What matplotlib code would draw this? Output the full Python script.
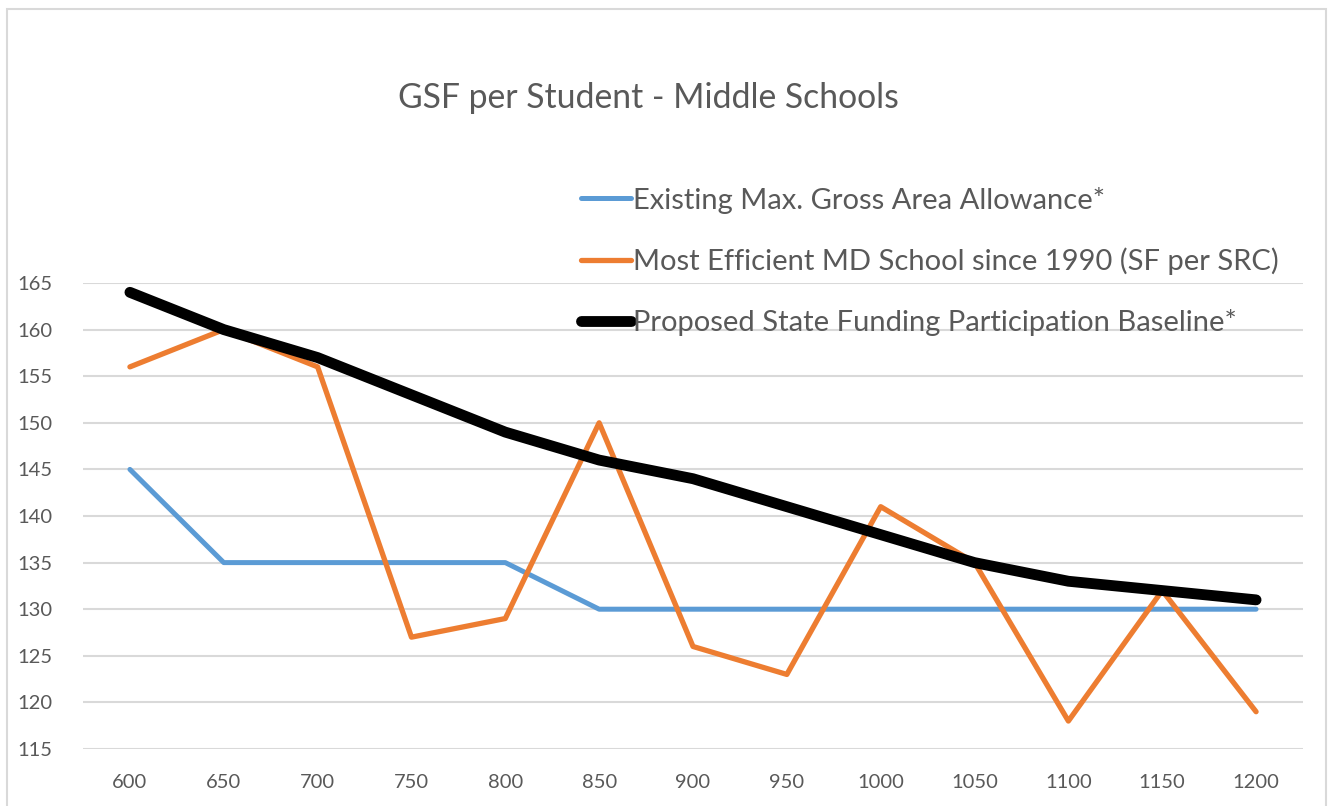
import numpy as np
import matplotlib.pyplot as plt
from matplotlib.patches import Rectangle

# enrollment categories
enrollment = [600, 650, 700, 750, 800, 850, 900, 950, 1000, 1050, 1100, 1150, 1200]

existing_max = [145, 135, 135, 135, 135, 130, 130, 130, 130, 130, 130, 130, 130]
most_efficient = [156, 160, 156, 127, 129, 150, 126, 123, 141, 135, 118, 132, 119]
proposed = [164, 160, 157, 153, 149, 146, 144, 141, 138, 135, 133, 132, 131]

labels = ['Existing Max. Gross Area Allowance*',
          'Most Efficient MD School since 1990 (SF per SRC)',
          'Proposed State Funding Participation Baseline*']

txt = '#595959'
plt.rcParams['font.family'] = ['Lato', 'DejaVu Sans']

fig = plt.figure(figsize=(13.34, 8.06), dpi=100)
# chart border
fig.patches.append(Rectangle((7 / 1334, -0.01), (1326 - 7) / 1334, 1 - 9 / 806 + 0.01,
                             transform=fig.transFigure, fill=False,
                             edgecolor='#d9d9d9', linewidth=1.5))

ax = fig.add_axes([83 / 1334, 1 - 749 / 806, 1220 / 1334, (749 - 283) / 806])
x = np.arange(len(enrollment))

l1, = ax.plot(x, existing_max, color='#5B9BD5', lw=3.6, solid_capstyle='round',
              solid_joinstyle='round', zorder=3)
l2, = ax.plot(x, most_efficient, color='#ED7D31', lw=3.8, solid_capstyle='round',
              solid_joinstyle='round', zorder=4)
l3, = ax.plot(x, proposed, color='black', lw=7.8, solid_capstyle='round',
              solid_joinstyle='round', zorder=5)

ax.set_xlim(-0.5, len(enrollment) - 0.5)
ax.set_ylim(115, 165)
ax.set_yticks(range(115, 166, 5))
ax.set_xticks(x)
ax.set_xticklabels([str(v) for v in enrollment])
ax.grid(axis='y', color='#d9d9d9', lw=1.5, zorder=0)
ax.set_axisbelow(True)
for s in ax.spines.values():
    s.set_visible(False)
ax.tick_params(length=0, labelsize=14.5, colors=txt)
ax.tick_params(axis='x', pad=18)
ax.tick_params(axis='y', pad=22)

fig.text(648 / 1334, 1 - 98 / 806, 'GSF per Student - Middle Schools',
         ha='center', va='center', fontsize=24.3, color=txt)

leg = fig.legend([l1, l2, l3], labels, loc='upper left',
                 bbox_to_anchor=(566 / 1334, 1 - 172 / 806), frameon=False,
                 fontsize=21, labelcolor=txt, handlelength=1.72, handletextpad=0.08,
                 labelspacing=1.16, borderpad=0)

fig.savefig('out.png', dpi=100)
